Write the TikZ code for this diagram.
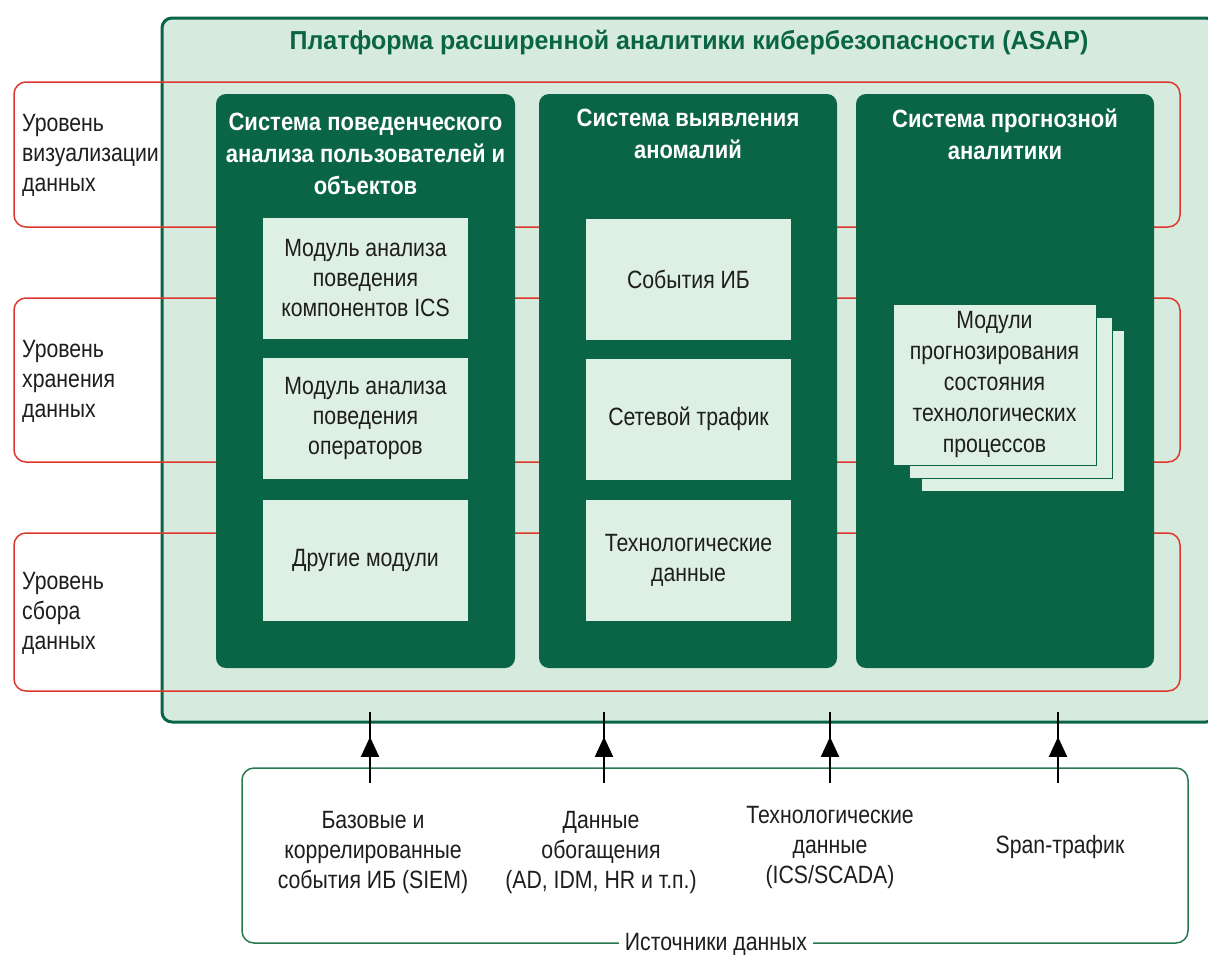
\documentclass[tikz,border=0pt]{standalone}
\usepackage{fontspec}
\setmainfont[FakeStretch=0.85]{Liberation Sans}
\newfontfamily\titlefont[FakeStretch=0.96]{Liberation Sans}
\newfontfamily\coltitlefont[FakeStretch=0.88]{Liberation Sans}
\usetikzlibrary{arrows.meta,decorations.markings}
\definecolor{dkgreen}{RGB}{10,100,70}
\definecolor{ltgreen}{RGB}{214,235,222}
\definecolor{boxgreen}{RGB}{222,240,228}
\definecolor{redline}{RGB}{222,55,45}
\definecolor{srcgreen}{RGB}{40,120,80}
\definecolor{txt}{RGB}{30,30,30}
\tikzset{
  platform/.style={draw=dkgreen,fill=ltgreen,line width=3pt,rounded corners=10pt,minimum width=1054pt,minimum height=704pt,inner sep=0pt},
  layerbox/.style={draw=redline,line width=1.5pt,rounded corners=12pt,minimum width=1166pt,inner sep=0pt},
  column/.style={fill=dkgreen,rounded corners=10pt,minimum width=298pt,minimum height=574pt,inner sep=0pt},
  coltitle/.style={text=white,align=center,inner sep=0pt,font=\coltitlefont\fontsize{25}{32}\selectfont\bfseries},
  module/.style={fill=boxgreen,minimum width=205pt,minimum height=121pt,inner sep=0pt,align=center,text=txt,font=\fontsize{25}{30}\selectfont},
  card/.style={fill=boxgreen,draw=dkgreen,line width=0.8pt,minimum width=203pt,minimum height=161pt,inner sep=0pt,align=center,text=txt,font=\fontsize{25}{31}\selectfont},
  levellabel/.style={anchor=west,align=left,inner sep=0pt,text=txt,font=\fontsize{25}{30}\selectfont},
  srclabel/.style={align=center,inner sep=0pt,text=txt,font=\fontsize{25}{30}\selectfont},
  feed/.style={line width=2pt,draw=black,postaction={decorate},decoration={markings,mark=at position 0.65 with {\arrow{Triangle[length=20pt,width=18pt]}}}},
}
\begin{document}
\begin{tikzpicture}[x=1pt,y=-1pt]
\clip (0,0) rectangle (1208,954);
\fill[white] (0,0) rectangle (1208,954);

% platform
\node[platform] (plat) at (689,370) {};
\node[text=dkgreen,inner sep=0pt,font=\titlefont\fontsize{26}{30}\selectfont\bfseries] (ptitle) at (689,43) {Платформа расширенной аналитики кибербезопасности (ASAP)};

% layers
\node[layerbox,minimum height=145pt] (lay1) at (597,154.5) {};
\node[layerbox,minimum height=164pt] (lay2) at (597,380) {};
\node[layerbox,minimum height=158pt] (lay3) at (597,612) {};
\node[levellabel] (lab1) at (22,155) {Уровень\\визуализации\\данных};
\node[levellabel] (lab2) at (22,381) {Уровень\\хранения\\данных};
\node[levellabel] (lab3) at (22,613) {Уровень\\сбора\\данных};

% columns
\node[column,minimum width=299pt] (col1) at (365.5,381) {};
\node[column] (col2) at (688,381) {};
\node[column] (col3) at (1005,381) {};

\node[coltitle] (t1) at (365.5,154) {Система поведенческого\\анализа пользователей и\\объектов};
\node[coltitle] (t2) at (688,134) {Система выявления\\аномалий};
\node[coltitle] (t3) at (1005,134) {Система прогнозной\\аналитики};

% modules column 1
\node[module] (m11) at (365.5,278.5) {Модуль анализа\\поведения\\компонентов ICS};
\node[module] (m12) at (365.5,418.5) {Модуль анализа\\поведения\\операторов};
\node[module] (m13) at (365.5,560.5) {Другие модули};

% modules column 2
\node[module] (m21) at (688.5,279) {События ИБ};
\node[module] (m22) at (688.5,419) {Сетевой трафик};
\node[module] (m23) at (688.5,560.5) {Технологические\\данные};

% stacked cards column 3
\node[card] (c3) at (1022.5,410.5) {};
\node[card] (c2) at (1010.5,397.5) {};
\node[card] (c1) at (994.5,384.5) {Модули\\прогнозирования\\состояния\\технологических\\процессов};

% data sources
\node[draw=srcgreen,line width=1.5pt,rounded corners=12pt,minimum width=946pt,minimum height=175pt,inner sep=0pt] (src) at (715,855.5) {};
\node[fill=white,inner xsep=6pt,inner ysep=2pt,text=txt,font=\fontsize{25}{30}\selectfont] (srctitle) at (716,944) {Источники данных};

\node[srclabel] (s1) at (373,852) {Базовые и\\коррелированные\\события ИБ (SIEM)};
\node[srclabel] (s2) at (601,852) {Данные\\обогащения\\(AD, IDM, HR и т.п.)};
\node[srclabel] (s3) at (830,847) {Технологические\\данные\\(ICS/SCADA)};
\node[srclabel] (s4) at (1060,847) {Span-трафик};

% arrows
\coordinate (a1b) at (370,783); \coordinate (a1t) at (370,712);
\coordinate (a2b) at (604,783); \coordinate (a2t) at (604,712);
\coordinate (a3b) at (830,783); \coordinate (a3t) at (830,712);
\coordinate (a4b) at (1058,783); \coordinate (a4t) at (1058,712);
\draw[feed] (a1b) -- (a1t);
\draw[feed] (a2b) -- (a2t);
\draw[feed] (a3b) -- (a3t);
\draw[feed] (a4b) -- (a4t);
\end{tikzpicture}
\end{document}
